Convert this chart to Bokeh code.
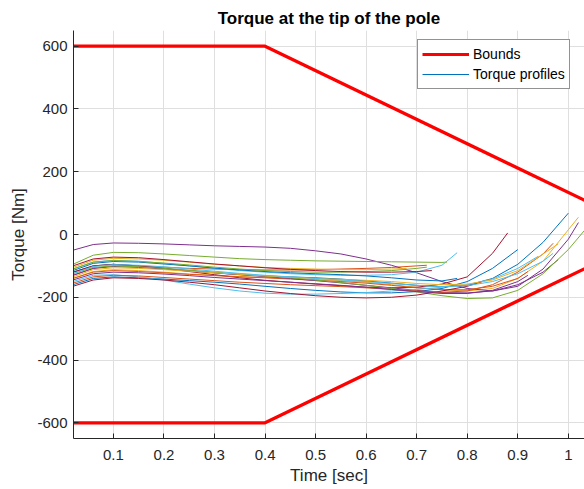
from bokeh.plotting import figure
from bokeh.models import Range1d, FixedTicker, PrintfTickFormatter, Legend, LegendItem
from bokeh.embed import file_html
from bokeh.resources import INLINE

# ---- data ----
bound_time = [0.0, 0.4, 1.05]
upper_bound = [600, 600, 95]
lower_bound = [-600, -600, -95]

time_grid = [0.02, 0.06, 0.1, 0.15, 0.2, 0.25, 0.3, 0.35, 0.4, 0.45, 0.5,
             0.55, 0.6, 0.65, 0.7, 0.75, 0.8, 0.85, 0.9, 0.95, 1.0]

profile_end_times = [1.0, 0.72, 1.02, 1.02, 0.76, 0.78, 0.88,
                     0.9, 0.92, 0.68, 0.98, 1.032, 0.94, 0.83,
                     0.78, 0.97, 0.98, 0.92, 0.72, 0.97, 0.73]

profile_values = [
    [-120, -100, -95, -100, -108, -115, -122, -128, -132, -135, -138, -142, -148, -155, -162, -166, -162, -140, -95, -25, 68],
    [-130, -108, -100, -100, -104, -108, -110, -112, -113, -113, -112, -110, -108, -105, -100, -98],
    [-140, -118, -112, -115, -120, -126, -130, -134, -137, -140, -143, -147, -152, -160, -168, -176, -180, -172, -140, -85, 15, 55],
    [-50, -32, -27, -28, -30, -33, -36, -38, -40, -44, -52, -62, -78, -98, -122, -150, -172, -180, -165, -110, -15, 38],
    [-95, -66, -57, -58, -62, -67, -72, -77, -80, -82, -84, -85, -86, -87, -88, -89, -88],
    [-110, -88, -82, -85, -92, -100, -108, -115, -120, -125, -128, -130, -130, -128, -120, -98, -58],
    [-120, -100, -95, -100, -108, -118, -128, -138, -146, -152, -158, -163, -168, -170, -168, -158, -135, -60, 5],
    [-160, -140, -135, -138, -142, -147, -152, -158, -165, -172, -178, -183, -186, -186, -182, -172, -150, -108, -48],
    [-140, -120, -115, -118, -122, -127, -131, -135, -138, -142, -146, -150, -155, -162, -170, -176, -176, -165, -140, -118],
    [-105, -82, -76, -78, -82, -88, -95, -100, -105, -108, -110, -112, -112, -110, -108],
    [-130, -108, -102, -105, -110, -116, -122, -128, -134, -140, -147, -154, -162, -170, -178, -185, -186, -180, -160, -120, -80],
    [-125, -105, -100, -103, -108, -114, -120, -126, -132, -138, -145, -153, -162, -172, -183, -195, -204, -202, -178, -125, -48, 13],
    [-150, -130, -128, -135, -145, -158, -170, -180, -187, -190, -190, -188, -185, -180, -175, -168, -160, -142, -108, -70],
    [-165, -145, -138, -140, -145, -152, -160, -170, -180, -188, -195, -200, -202, -200, -193, -180, -165, -150],
    [-115, -92, -86, -88, -94, -100, -107, -113, -118, -122, -125, -128, -132, -138, -145, -148, -140],
    [-155, -135, -130, -132, -137, -142, -147, -152, -156, -160, -163, -166, -170, -175, -180, -184, -180, -160, -120, -62, -28],
    [-135, -112, -106, -108, -112, -117, -122, -127, -132, -136, -140, -143, -146, -150, -156, -160, -158, -145, -115, -62, -30],
    [-145, -125, -120, -122, -126, -131, -137, -142, -147, -152, -157, -162, -168, -175, -182, -188, -188, -178, -150, -130],
    [-110, -88, -83, -86, -91, -97, -104, -110, -115, -118, -120, -120, -118, -115, -108, -104],
    [-125, -102, -96, -98, -103, -110, -117, -124, -130, -135, -140, -145, -150, -156, -162, -166, -163, -150, -125, -85, -60],
    [-100, -78, -72, -74, -80, -87, -94, -100, -106, -111, -115, -118, -120, -120, -118, -115],
]

x_ticks = [0.1, 0.2, 0.3, 0.4, 0.5, 0.6, 0.7, 0.8, 0.9, 1.0]
y_ticks = [-600, -400, -200, 0, 200, 400, 600]

colors = ["#0072BD", "#D95319", "#EDB120", "#7E2F8E", "#77AC30", "#4DBEEE", "#A2142F"]

FONT = "Liberation Sans"
TXT = "#262626"

p = figure(width=584, height=489, output_backend="svg", toolbar_location=None,
           x_range=Range1d(0.021, 1.032), y_range=Range1d(-650, 650),
           min_border_left=73, min_border_right=0, min_border_top=30, min_border_bottom=51,
           title="Torque at the tip of the pole")
p.outline_line_color = None
p.background_fill_color = "white"
p.border_fill_color = "white"

p.title.text_font = FONT
p.title.text_font_size = "17px"
p.title.text_font_style = "bold"
p.title.text_color = "black"
p.title.align = "center"
p.title.standoff = 4
p.title.vertical_align = "middle"

# profiles
prof_renderers = []
for i, (end_t, vals) in enumerate(zip(profile_end_times, profile_values)):
    t = [g for g in time_grid if g < end_t - 1e-9] + [end_t]
    n = min(len(t), len(vals))
    r = p.line(t[:n], vals[:n], line_color=colors[i % len(colors)], line_width=1,
               line_join="round")
    prof_renderers.append(r)

# bounds
rb = p.line(bound_time, upper_bound, line_color="#FF0000", line_width=3.2)
p.line(bound_time, lower_bound, line_color="#FF0000", line_width=3.2)

for ax in (p.xaxis[0], p.yaxis[0]):
    ax.axis_line_color = TXT
    ax.axis_line_width = 1
    ax.major_tick_line_color = TXT
    ax.major_tick_in = 5
    ax.major_tick_out = 0
    ax.minor_tick_line_color = None
    ax.major_label_text_font = FONT
    ax.major_label_text_font_size = "15px"
    ax.major_label_text_color = TXT
    ax.axis_label_text_font = FONT
    ax.axis_label_text_font_size = "17px"
    ax.axis_label_text_font_style = "normal"
    ax.axis_label_text_color = TXT

p.xaxis.ticker = FixedTicker(ticks=x_ticks)
p.xaxis.formatter = PrintfTickFormatter(format="%g")
p.yaxis.ticker = FixedTicker(ticks=y_ticks)
p.yaxis.formatter = PrintfTickFormatter(format="%d")
p.xaxis.axis_label = "Time [sec]"
p.yaxis.axis_label = "Torque [Nm]"
p.xaxis.major_label_standoff = 11
p.yaxis.major_label_standoff = 6
p.xaxis.axis_label_standoff = 3
p.yaxis.axis_label_standoff = 6

p.xgrid.grid_line_color = "#dfdfdf"
p.ygrid.grid_line_color = "#dfdfdf"
p.xgrid.ticker = FixedTicker(ticks=x_ticks)
p.ygrid.ticker = FixedTicker(ticks=y_ticks)

legend = Legend(items=[LegendItem(label="Bounds", renderers=[rb]),
                       LegendItem(label="Torque profiles", renderers=[prof_renderers[0]])],
                location=(344, 349))
legend.label_text_font = FONT
legend.label_text_font_size = "14px"
legend.label_text_color = "black"
legend.glyph_width = 47
legend.glyph_height = 20
legend.label_height = 20
legend.label_standoff = 4
legend.spacing = 0
legend.padding = 4
legend.margin = 0
legend.border_line_color = "#262626"
legend.border_line_width = 1
legend.background_fill_color = "white"
legend.background_fill_alpha = 1
p.add_layout(legend)

open("out.html", "w").write(file_html(p, INLINE))
